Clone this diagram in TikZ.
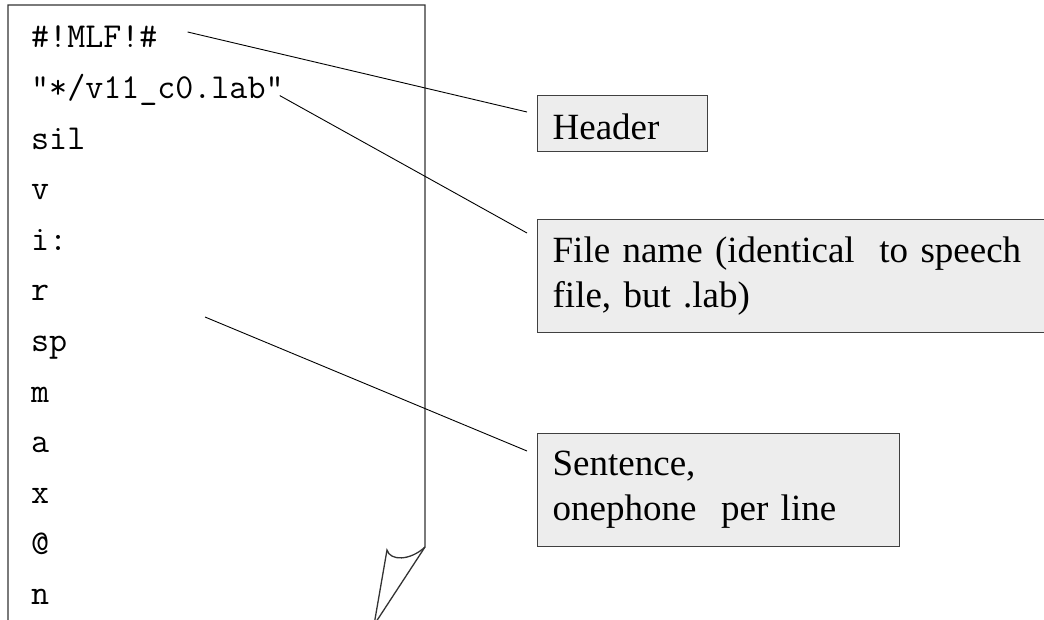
\documentclass[tikz,border=0pt]{standalone}
\usepackage{fontspec}
\setmainfont{Liberation Serif}
\usetikzlibrary{positioning}
\newcommand{\notefont}{\fontsize{37}{45}\selectfont}
\newcommand{\rowfont}{\ttfamily\fontsize{35}{40}\selectfont}
\tikzset{
  phone/.style={anchor=base west, font=\rowfont, inner sep=0pt},
  note/.style={draw=black!75, fill=black!7, line width=1.3pt, anchor=north west,
    align=left, font=\notefont, inner xsep=15pt, inner ysep=0pt},
  pageline/.style={draw=black!80, line width=1.3pt},
  pointer/.style={draw=black, line width=0.9pt},
}

\begin{document}
\begin{tikzpicture}[x=1pt, y=-1pt]
		\useasboundingbox (0,0) rectangle (1044,620);

		% label file
		\draw[pageline] (8,630) -- (8,5) -- (425,5) -- (425,547) -- (374,625);
		\draw[pageline] (425,547) .. controls (410,561) and (390,561) .. (387,550) -- (374,625);
		\foreach \ph [count=\i from 0] in {\#!MLF!\#, "*/v11\_c0.lab", sil, v, i:, r, sp, m, a, x, @, n}
			\node[phone] (r\i) at (31, 48+50.6*\i) {\ph};

		% notes
		\node[note, text width=140pt, minimum height=56pt, text height=33pt] (hdr) at (537,95) {Header};
		\node[note, text width=500pt, minimum height=113pt] (fname) at (537,219)
			{File name (identical\ \ to speech\\file, but .lab)};
		\node[note, text width=332pt, minimum height=113pt] (sent) at (537,433)
			{Sentence,\\onephone\ \ per line};

		% pointers
		\coordinate (sentfrom) at (205,317);
		\draw[pointer] ([xshift=30pt,yshift=-6pt]r0.north east) -- ([xshift=-10pt,yshift=-17pt]hdr.north west);
		\draw[pointer] ([xshift=-4pt,yshift=3pt]r1.base east) -- ([xshift=-10pt,yshift=-14pt]fname.north west);
		\draw[pointer] (sentfrom) -- ([xshift=-10pt,yshift=-18pt]sent.north west);

	\end{tikzpicture}
\end{document}
